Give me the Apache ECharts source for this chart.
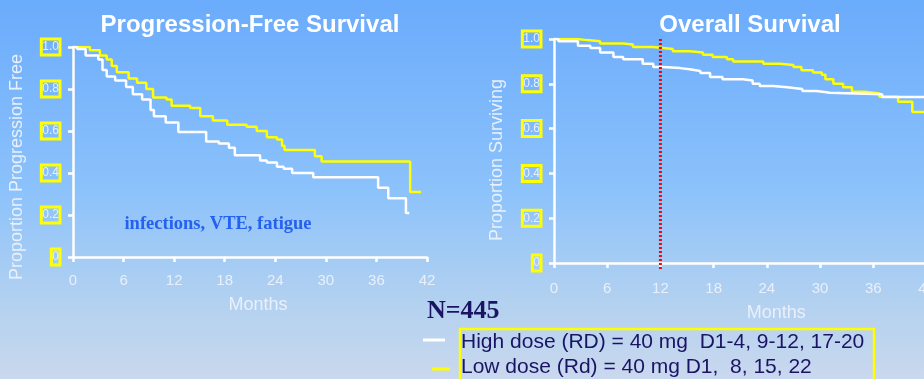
<!DOCTYPE html>
<html>
<head>
<meta charset="utf-8">
<script src="https://cdn.jsdelivr.net/npm/echarts@6/dist/echarts.min.js"></script>
<style>
  html, body { margin: 0; padding: 0; }
  #chart { width: 924px; height: 379px; }
</style>
</head>
<body>
<div id="chart"></div>
<script>
// Kaplan-Meier step curves: time (months) and survival proportion after each event
const pfsHighT = [0, 0.5, 1.5, 3, 3.5, 4, 5, 6.3, 7.1, 8.2, 9.2, 9.6, 11, 12.5, 15.8, 17.3, 18.5, 19.2, 22.2, 23, 24.2, 25, 26, 28.5, 36.2, 37.4, 39.5, 39.9];
const pfsHighS = [1.0, 0.99, 0.96, 0.94, 0.89, 0.86, 0.84, 0.81, 0.775, 0.75, 0.70, 0.67, 0.64, 0.595, 0.55, 0.54, 0.52, 0.485, 0.46, 0.45, 0.43, 0.42, 0.40, 0.38, 0.33, 0.28, 0.21, 0.21];

const pfsLowT = [0, 2, 3.2, 4, 4.6, 5.2, 6.6, 7.6, 8.7, 9.5, 11.1, 11.7, 13.9, 15.1, 16.6, 18.3, 20.6, 21.8, 23, 24.2, 24.8, 25.1, 28.7, 29.5, 40, 41.3];
const pfsLowS = [1.0, 0.985, 0.96, 0.94, 0.91, 0.88, 0.85, 0.83, 0.80, 0.76, 0.75, 0.72, 0.71, 0.67, 0.65, 0.63, 0.62, 0.60, 0.57, 0.56, 0.53, 0.51, 0.48, 0.455, 0.31, 0.31];

const osHighT = [0, 0.5, 2.7, 4.1, 5.2, 6.7, 7.8, 10, 11.2, 12.3, 14.2, 15.3, 16.5, 17.6, 19, 21.3, 22.4, 23.2, 24.7, 26.3, 28, 29.6, 31.1, 37, 42];
const osHighS = [1.0, 0.99, 0.97, 0.96, 0.94, 0.92, 0.91, 0.89, 0.875, 0.87, 0.865, 0.857, 0.848, 0.83, 0.82, 0.815, 0.80, 0.79, 0.785, 0.777, 0.768, 0.76, 0.753, 0.741, 0.741];

const osLowT = [0, 2.6, 3.7, 5.2, 7.8, 8.9, 11.2, 12.3, 13.4, 15.3, 16.8, 17.9, 19.5, 20.2, 23.6, 25.5, 27, 27.9, 29.2, 30.2, 30.6, 31.5, 32.6, 33.6, 35, 36.7, 38.8, 40.4, 42];
const osLowS = [1.0, 0.995, 0.99, 0.98, 0.975, 0.964, 0.96, 0.955, 0.945, 0.94, 0.93, 0.92, 0.91, 0.90, 0.89, 0.884, 0.875, 0.86, 0.85, 0.84, 0.82, 0.80, 0.785, 0.765, 0.757, 0.742, 0.72, 0.674, 0.674];

// Axis ticks
const monthTicks = [0, 6, 12, 18, 24, 30, 36, 42];
const propTicks = [0, 0.2, 0.4, 0.6, 0.8, 1.0];
const propTickLabels = ['0', '0.2', '0.4', '0.6', '0.8', '1.0'];

// 12-month landmark on the overall survival panel
const landmarkT = [12, 12];
const landmarkS = [1.0, -0.027];

const zip = (t, s) => t.map((v, i) => [v, s[i]]);

const AXIS_TEXT = '#e8f0fb';
const YELLOW = '#ffff00';

function xAxisCfg(gridIndex, gap, labelMargin, nameShift) {
  return {
    type: 'value', gridIndex: gridIndex,
    min: monthTicks[0], max: monthTicks[monthTicks.length - 1], interval: monthTicks[1] - monthTicks[0],
    name: 'Months', nameLocation: 'middle', nameGap: gap,
    nameTextStyle: { color: AXIS_TEXT, fontSize: 18, fontFamily: 'Liberation Sans, Arial, sans-serif',
      padding: [0, 0, 0, nameShift * 2] },
    axisLine: { show: true, onZero: false, lineStyle: { color: '#ffffff', width: 2.5 } },
    axisTick: { show: true, length: 5, lineStyle: { color: '#ffffff', width: 2.5 } },
    axisLabel: { color: AXIS_TEXT, fontSize: 15, margin: labelMargin, fontFamily: 'Liberation Sans, Arial, sans-serif' },
    splitLine: { show: false }
  };
}

function yAxisCfg(gridIndex) {
  return {
    type: 'value', gridIndex: gridIndex,
    min: propTicks[0], max: propTicks[propTicks.length - 1], interval: 0.2,
    axisLine: { show: true, lineStyle: { color: '#ffffff', width: 2.5 } },
    axisTick: { show: true, length: 5, lineStyle: { color: '#ffffff', width: 2.5 } },
    axisLabel: {
      color: AXIS_TEXT, fontSize: 12, margin: 13, lineHeight: 13,
      fontFamily: 'Liberation Sans, Arial, sans-serif',
      borderColor: YELLOW, borderWidth: 3, padding: [2, 1, 1, 1],
      formatter: v => propTickLabels[propTicks.findIndex(p => Math.abs(p - v) < 1e-6)]
    },
    splitLine: { show: false }
  };
}

function kmSeries(data, color, xi, z) {
  return {
    type: 'line', xAxisIndex: xi, yAxisIndex: xi, step: 'end',
    data: data, showSymbol: false, symbol: 'none', silent: true, z: z,
    lineStyle: { color: color, width: 2.5 }
  };
}

const chart = echarts.init(document.getElementById('chart'), null, { renderer: 'canvas' });

chart.setOption({
  animation: false,
  backgroundColor: {
    type: 'linear', x: 0, y: 0, x2: 0, y2: 1,
    colorStops: [
      { offset: 0, color: '#6aabfb' },
      { offset: 0.5, color: '#8cc2fb' },
      { offset: 0.8, color: '#b3d1f0' },
      { offset: 1, color: '#c9d8ee' }
    ]
  },
  title: [
    { text: 'Progression-Free Survival', left: 245, top: 8, textAlign: 'center',
      textStyle: { color: '#ffffff', fontSize: 24, fontWeight: 'bold', fontFamily: 'Liberation Sans, Arial, sans-serif' } },
    { text: 'Overall Survival', left: 745, top: 8, textAlign: 'center',
      textStyle: { color: '#ffffff', fontSize: 24, fontWeight: 'bold', fontFamily: 'Liberation Sans, Arial, sans-serif' } }
  ],
  grid: [
    { left: 73, top: 47, width: 354, height: 210, outerBoundsMode: 'none' },
    { left: 554, top: 39, width: 372.5, height: 224, outerBoundsMode: 'none' }
  ],
  xAxis: [xAxisCfg(0, 39, 16, 8), xAxisCfg(1, 41, 18, 36)],
  yAxis: [yAxisCfg(0), yAxisCfg(1)],
  series: [
    kmSeries(zip(pfsLowT, pfsLowS), YELLOW, 0, 2),
    kmSeries(zip(pfsHighT, pfsHighS), '#ffffff', 0, 3),
    kmSeries(zip(osLowT, osLowS), YELLOW, 1, 2),
    kmSeries(zip(osHighT, osHighS), '#ffffff', 1, 3),
    {
      type: 'line', xAxisIndex: 1, yAxisIndex: 1, clip: false, silent: true, z: 4,
      data: zip(landmarkT, landmarkS), showSymbol: false, symbol: 'none',
      lineStyle: { color: '#ff0000', width: 3, type: [2, 2] }
    }
  ],
  graphic: [
    { type: 'text', x: 17, y: 167, rotation: Math.PI / 2,
      style: { text: 'Proportion Progression Free', fill: AXIS_TEXT, font: '18px "Liberation Sans", Arial, sans-serif', align: 'center', verticalAlign: 'middle' } },
    { type: 'text', x: 497, y: 160, rotation: Math.PI / 2,
      style: { text: 'Proportion Surviving', fill: AXIS_TEXT, font: '18px "Liberation Sans", Arial, sans-serif', align: 'center', verticalAlign: 'middle' } },
    { type: 'text', x: 218, y: 224,
      style: { text: 'infections, VTE, fatigue', fill: '#2461ef', font: 'bold 18.5px "Liberation Serif", "Times New Roman", serif', align: 'center', verticalAlign: 'middle' } },
    { type: 'text', x: 427, y: 311,
      style: { text: 'N=445', fill: '#1b1464', font: 'bold 26px "Liberation Serif", "Times New Roman", serif', align: 'left', verticalAlign: 'middle' } },
    { type: 'rect', shape: { x: 460, y: 329, width: 414, height: 70 },
      style: { fill: 'none', stroke: YELLOW, lineWidth: 2.5 } },
    { type: 'line', shape: { x1: 423, y1: 340, x2: 445, y2: 340 },
      style: { stroke: '#ffffff', lineWidth: 3 } },
    { type: 'line', shape: { x1: 432, y1: 369, x2: 450, y2: 369 },
      style: { stroke: YELLOW, lineWidth: 3 } },
    { type: 'text', x: 461, y: 342,
      style: { text: 'High dose (RD) = 40 mg  D1-4, 9-12, 17-20', fill: '#1b1464', font: '21px "Liberation Sans", Arial, sans-serif', align: 'left', verticalAlign: 'middle' } },
    { type: 'text', x: 461, y: 367,
      style: { text: 'Low dose (Rd) = 40 mg D1,  8, 15, 22', fill: '#1b1464', font: '21px "Liberation Sans", Arial, sans-serif', align: 'left', verticalAlign: 'middle' } }
  ]
});
</script>
</body>
</html>
